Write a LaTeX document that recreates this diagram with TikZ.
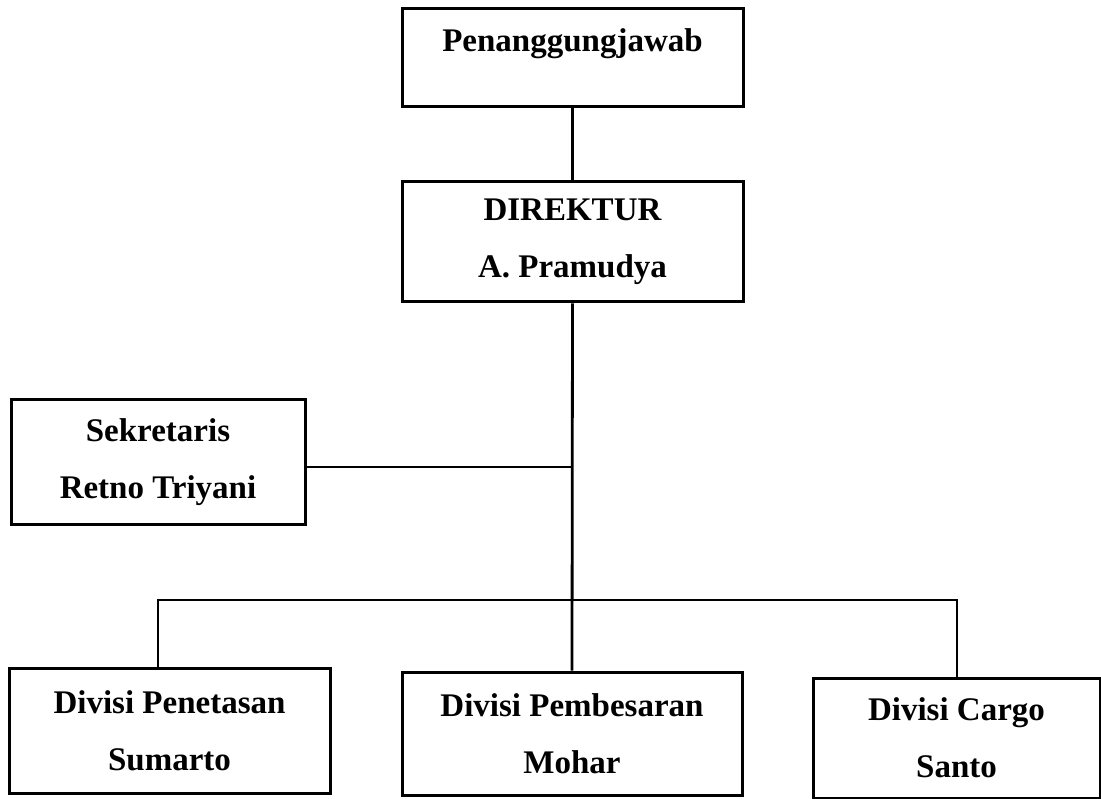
\documentclass[tikz,border=0pt]{standalone}
\usepackage{fontspec}
\setmainfont{Liberation Serif}
\begin{document}
\begin{tikzpicture}[x=1pt,y=-1pt,
  box/.style={draw=black,line width=3pt,inner sep=0pt,align=center,
    font={\fontsize{33}{57}\selectfont\bfseries}},
  link/.style={draw=black,line width=2.8pt}]
\useasboundingbox (0,0) rectangle (1101,799);
\node[box,minimum width=341pt,text height=43pt,text depth=55pt,text width=330pt] (top) at (572.5,58) {Penanggungjawab};
\node[box,minimum width=341pt,minimum height=120pt] (dir) at (572.5,242) {DIREKTUR\\A. Pramudya};
\node[box,minimum width=294pt,minimum height=124pt] (sek) at (158,462) {Sekretaris\\Retno Triyani};
\node[box,minimum width=321pt,minimum height=125pt] (pen) at (169.5,730.5) {Divisi Penetasan\\Sumarto};
\node[box,minimum width=340pt,minimum height=123pt] (pem) at (572,733.5) {Divisi Pembesaran\\Mohar};
\node[box,minimum width=287pt,minimum height=120pt] (car) at (956.5,738) {Divisi Cargo\\Santo};
\coordinate (sj) at (572,467);
\coordinate (bl) at (158,600);
\coordinate (br) at (957,600);
\draw[link] (top.south) -- (dir.north);
\draw[link] (dir.south) -- (pem.north);
\draw[link] (sek.east |- sj) -- (sj);
\draw[link,line cap=rect] (bl) -- (br);
\draw[link] (bl) -- (bl |- pen.north);
\draw[link] (br) -- (br |- car.north);
\end{tikzpicture}
\end{document}
